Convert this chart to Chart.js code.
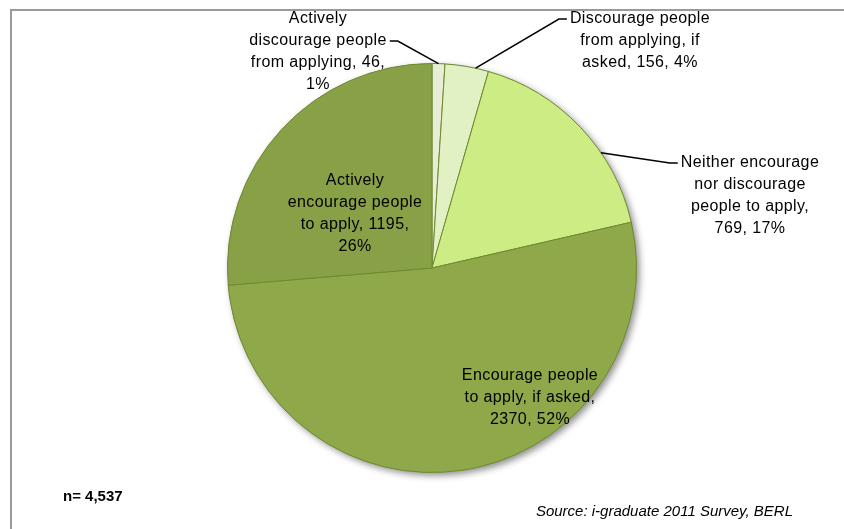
<!DOCTYPE html>
<html>
<head>
<meta charset="utf-8">
<script src="https://cdn.jsdelivr.net/npm/chart.js@4.4.1/dist/chart.umd.min.js"></script>
<style>
  html, body { margin: 0; padding: 0; background: #fff; }
  #wrap { width: 844px; height: 529px; position: relative; }
</style>
</head>
<body>
<div id="wrap"><canvas id="pieChart" width="844" height="529"></canvas></div>
<script>
const categories = [
  'Actively discourage people from applying',
  'Discourage people from applying, if asked',
  'Neither encourage nor discourage people to apply',
  'Encourage people to apply, if asked',
  'Actively encourage people to apply'
];
const counts = [46, 156, 769, 2370, 1195];
const percents = [1, 4, 17, 52, 26];
const sampleNote = 'n= 4,537';
const sourceNote = 'Source: i-graduate 2011 Survey, BERL';

const labelLines = [
  ['Actively', 'discourage people', 'from applying, ' + counts[0] + ',', percents[0] + '%'],
  ['Discourage people', 'from applying, if', 'asked, ' + counts[1] + ', ' + percents[1] + '%'],
  ['Neither encourage', 'nor discourage', 'people to apply,', counts[2] + ', ' + percents[2] + '%'],
  ['Encourage people', 'to apply, if asked,', counts[3] + ', ' + percents[3] + '%'],
  ['Actively', 'encourage people', 'to apply, ' + counts[4] + ',', percents[4] + '%']
];

const sliceColors = ['#e6eed6', '#e2f1c4', '#cdec84', '#8ea84a', '#89a146'];

// label block centre relative to pie centre; leader: line it leaves from, side, rim angle fraction
const labelPlace = [
  { dx: -114, dy: -216, leader: { line: 1, side: 'right', frac: 0.5 } },
  { dx: 208, dy: -227, leader: { line: 0, side: 'left', frac: 0.7 } },
  { dx: 318, dy: -72, leader: { line: 0, side: 'left', frac: 0.65 } },
  { dx: 98, dy: 130 },
  { dx: -77, dy: -54 }
];

const lineH = 22;
const labelFont = '16px "Liberation Sans", Arial, sans-serif';

const pieDecor = {
  id: 'pieDecor',
  beforeDraw(chart) {
    const c = chart.ctx;
    c.save();
    c.fillStyle = '#fff';
    c.fillRect(0, 0, chart.width, chart.height);
    c.strokeStyle = '#999';
    c.lineWidth = 2;
    c.strokeRect(11, 10, chart.width + 20, chart.height + 20);
    c.restore();
  },
  beforeDatasetsDraw(chart) {
    const arc = chart.getDatasetMeta(0).data[0];
    const c = chart.ctx;
    c.save();
    c.shadowColor = 'rgba(0,0,0,0.45)';
    c.shadowBlur = 7;
    c.shadowOffsetX = 3;
    c.shadowOffsetY = 3;
    c.fillStyle = '#8ea84a';
    c.beginPath();
    c.arc(arc.x, arc.y, arc.outerRadius, 0, Math.PI * 2);
    c.fill();
    c.restore();
  },
  afterDatasetsDraw(chart) {
    const c = chart.ctx;
    const arcs = chart.getDatasetMeta(0).data;
    c.save();
    c.font = labelFont;
    c.letterSpacing = '0.4px';
    c.fillStyle = '#000';
    c.textAlign = 'center';
    c.textBaseline = 'middle';
    arcs.forEach((arc, i) => {
      const p = labelPlace[i];
      const lines = labelLines[i];
      const cx = arc.x + p.dx;
      const top = arc.y + p.dy - (lines.length - 1) * lineH / 2;
      lines.forEach((t, k) => c.fillText(t, cx, top + k * lineH));
      if (p.leader) {
        const L = p.leader;
        const w = c.measureText(lines[L.line]).width;
        const ly = top + L.line * lineH;
        const lx = L.side === 'right' ? cx + w / 2 + 3 : cx - w / 2 - 3;
        const ang = arc.startAngle + (arc.endAngle - arc.startAngle) * L.frac;
        const rx = arc.x + Math.cos(ang) * arc.outerRadius;
        const ry = arc.y + Math.sin(ang) * arc.outerRadius;
        const ex = L.side === 'right' ? lx + 8 : lx - 8;
        c.strokeStyle = '#000';
        c.lineWidth = 1.5;
        c.beginPath();
        c.moveTo(lx, ly);
        c.lineTo(ex, ly);
        c.lineTo(rx, ry);
        c.stroke();
      }
    });
    c.letterSpacing = '0px';
    c.font = 'bold 15px "Liberation Sans", Arial, sans-serif';
    c.textAlign = 'left';
    c.fillText(sampleNote, 63, 497);
    c.font = 'italic 15px "Liberation Sans", Arial, sans-serif';
    c.textAlign = 'right';
    c.fillText(sourceNote, 793, 512);
    c.restore();
  }
};

new Chart(document.getElementById('pieChart'), {
  type: 'pie',
  data: {
    labels: categories,
    datasets: [{
      data: counts,
      backgroundColor: sliceColors,
      borderColor: '#6f8a32',
      borderWidth: 1
    }]
  },
  options: {
    responsive: false,
    animation: false,
    layout: { padding: { left: 227, right: 207, top: 63, bottom: 56 } },
    plugins: {
      legend: { display: false },
      tooltip: { enabled: false },
      title: { display: false }
    }
  },
  plugins: [pieDecor]
});
</script>
</body>
</html>
